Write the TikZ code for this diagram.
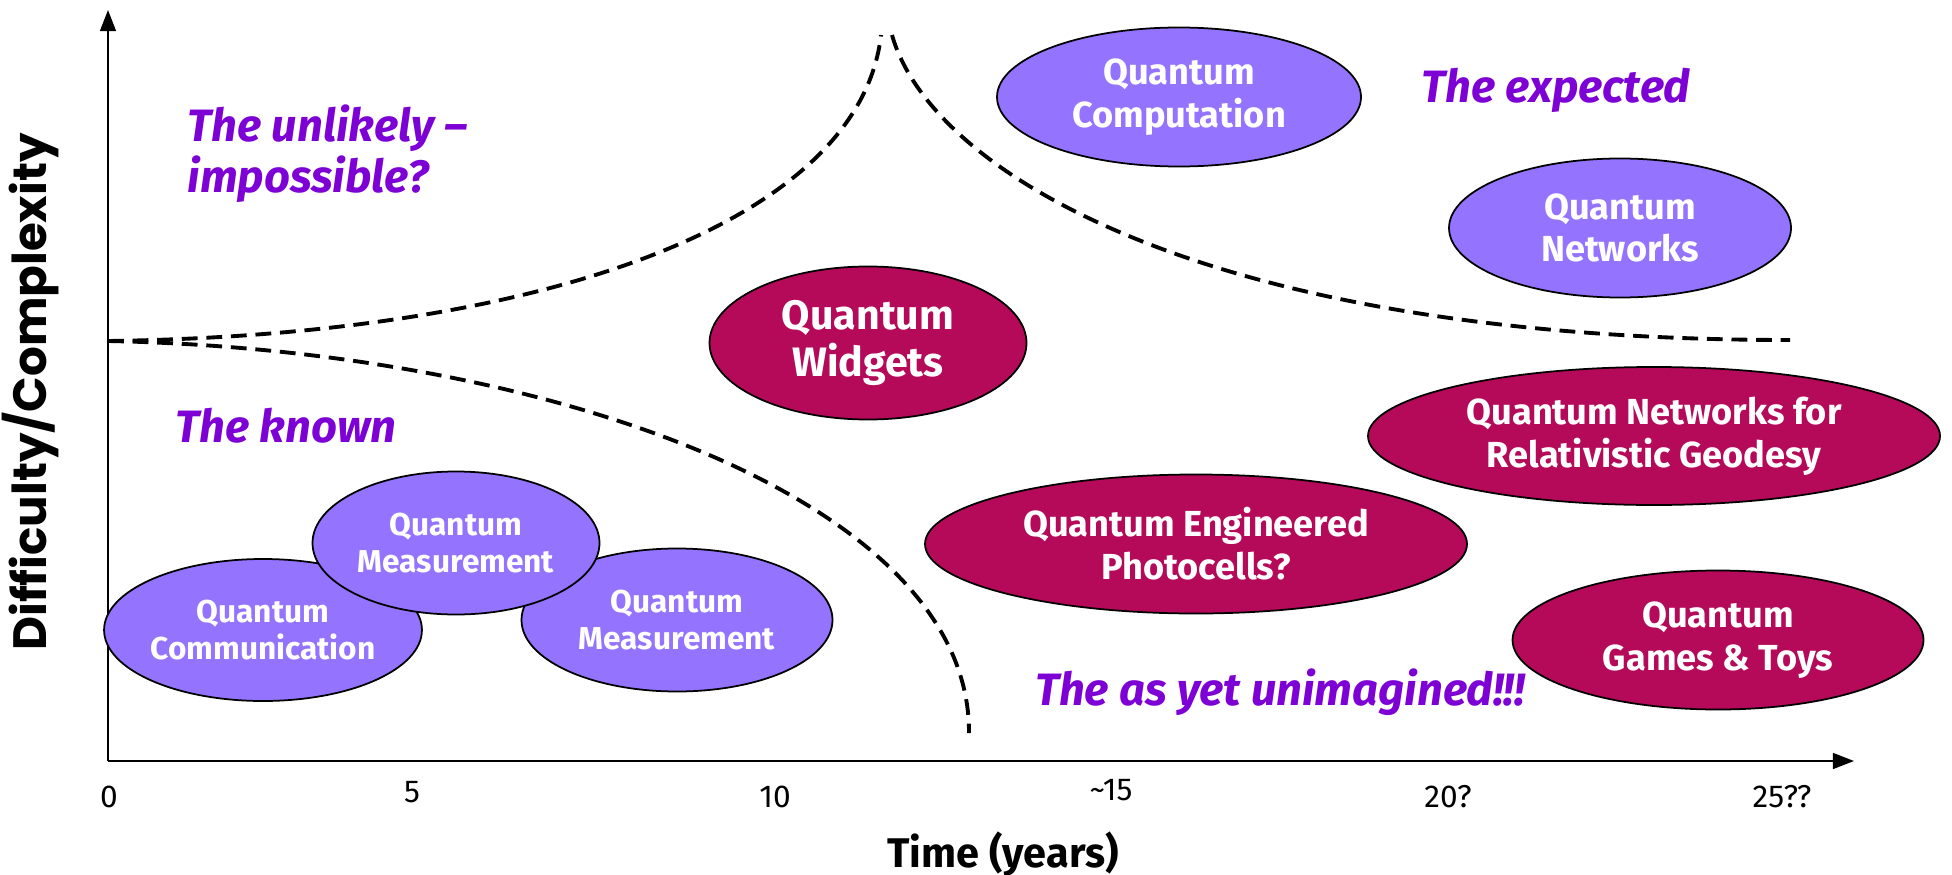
\documentclass[tikz,border=0pt]{standalone}
\usepackage{fontspec}
\setmainfont{Fira Sans}
\newfontfamily\axisfont{Poppins}
\usetikzlibrary{shapes.geometric, arrows.meta}
\definecolor{lavender}{RGB}{148,116,254}
\definecolor{berry}{RGB}{180,10,89}
\definecolor{regionviolet}{RGB}{125,0,212}

\begin{document}
\begin{tikzpicture}[
        current/.style={ellipse, draw=black, line width=0.5pt, fill=lavender, text=white, inner sep=0pt, align=center, font=\fontsize{10.3}{12.2}\selectfont\bfseries},
        future/.style={current, fill=berry},
        smalltext/.style={font=\fontsize{9}{10.5}\selectfont\bfseries},
        region/.style={text=regionviolet, inner sep=0pt, align=left, font=\fontsize{12.9}{14.5}\selectfont\bfseries\itshape},
        ticklabel/.style={font=\fontsize{9}{11}\selectfont},
        axisline/.style={line width=0.6pt, -{Triangle[length=6pt,width=4.5pt]}},
        boundary/.style={line width=1.1pt, dash pattern=on 4.5pt off 2.5pt}
    ]
        \useasboundingbox (0,0) rectangle (19.52,-8.75);

        \coordinate (origin) at (1.08,-7.61);
        \coordinate (ytop) at (1.08,-0.10);
        \coordinate (xend) at (18.54,-7.61);
        \draw[axisline] (origin) -- (ytop);
        \draw[axisline] (origin) -- (xend);

        \coordinate (split) at (1.08,-3.41);
        \coordinate (peakl) at (8.81,-0.35);
        \coordinate (peakr) at (8.92,-0.35);
        \coordinate (lowend) at (9.69,-7.33);
        \coordinate (flatend) at (17.90,-3.40);
        \draw[boundary] (split) .. controls (5.5,-3.35) and (8.6,-2.2) .. (peakl);
        \draw[boundary] (split) .. controls (5.5,-3.5) and (9.7,-5.0) .. (lowend);
        \draw[boundary] (peakr) .. controls (9.3,-1.7) and (12.0,-3.4) .. (flatend);

        \node[current, smalltext, minimum width=3.10cm, minimum height=1.42cm] (comm) at (2.63,-6.30) {Quantum\\Communication};
        \node[current, smalltext, minimum width=3.11cm, minimum height=1.43cm] (measb) at (6.77,-6.20) {Quantum\\Measurement};
        \node[current, smalltext, minimum width=2.87cm, minimum height=1.43cm] (meas) at (4.56,-5.43) {Quantum\\Measurement};
        \node[future, minimum width=3.17cm, minimum height=1.53cm, font=\fontsize{11.7}{13.5}\selectfont\bfseries] (widgets) at (8.68,-3.43) {Quantum\\Widgets};
        \node[current, minimum width=3.64cm, minimum height=1.39cm] (comp) at (11.79,-0.97) {Quantum\\Computation};
        \node[current, minimum width=3.42cm, minimum height=1.39cm] (netw) at (16.20,-2.28) {Quantum\\Networks};
        \node[future, minimum width=5.72cm, minimum height=1.38cm] (geodesy) at (16.54,-4.36) {Quantum Networks for\\Relativistic Geodesy};
        \node[future, minimum width=5.42cm, minimum height=1.39cm] (photo) at (11.96,-5.44) {Quantum Engineered\\Photocells?};
        \node[future, minimum width=4.11cm, minimum height=1.39cm] (games) at (17.18,-6.40) {Quantum\\Games \& Toys};

        \node[region, anchor=west] (unlikely) at (1.87,-1.535) {The unlikely --\\impossible?};
        \node[region, anchor=west] (known) at (1.75,-4.26) {The known};
        \node[region] (expected) at (15.56,-0.90) {The expected};
        \node[region] (unimagined) at (12.80,-6.92) {The as yet unimagined!!!};

        \node[ticklabel] (t0) at (1.09,-7.97) {0};
        \node[ticklabel] (t5) at (4.12,-7.92) {5};
        \node[ticklabel] (t10) at (7.75,-7.97) {10};
        \node[ticklabel] (t15) at (11.11,-7.90) {\textasciitilde15};
        \node[ticklabel] (t20) at (14.48,-7.97) {20?};
        \node[ticklabel] (t25) at (17.82,-7.97) {25??};
        \node[font=\fontsize{11.8}{13}\selectfont\bfseries] (xlabel) at (10.03,-8.54) {Time (years)};
        \node[rotate=90, anchor=base, font=\axisfont\fontsize{13.3}{15}\selectfont\bfseries] (ylabel) at (0.46,-3.92) {Difficulty/Complexity};
    \end{tikzpicture}
\end{document}
